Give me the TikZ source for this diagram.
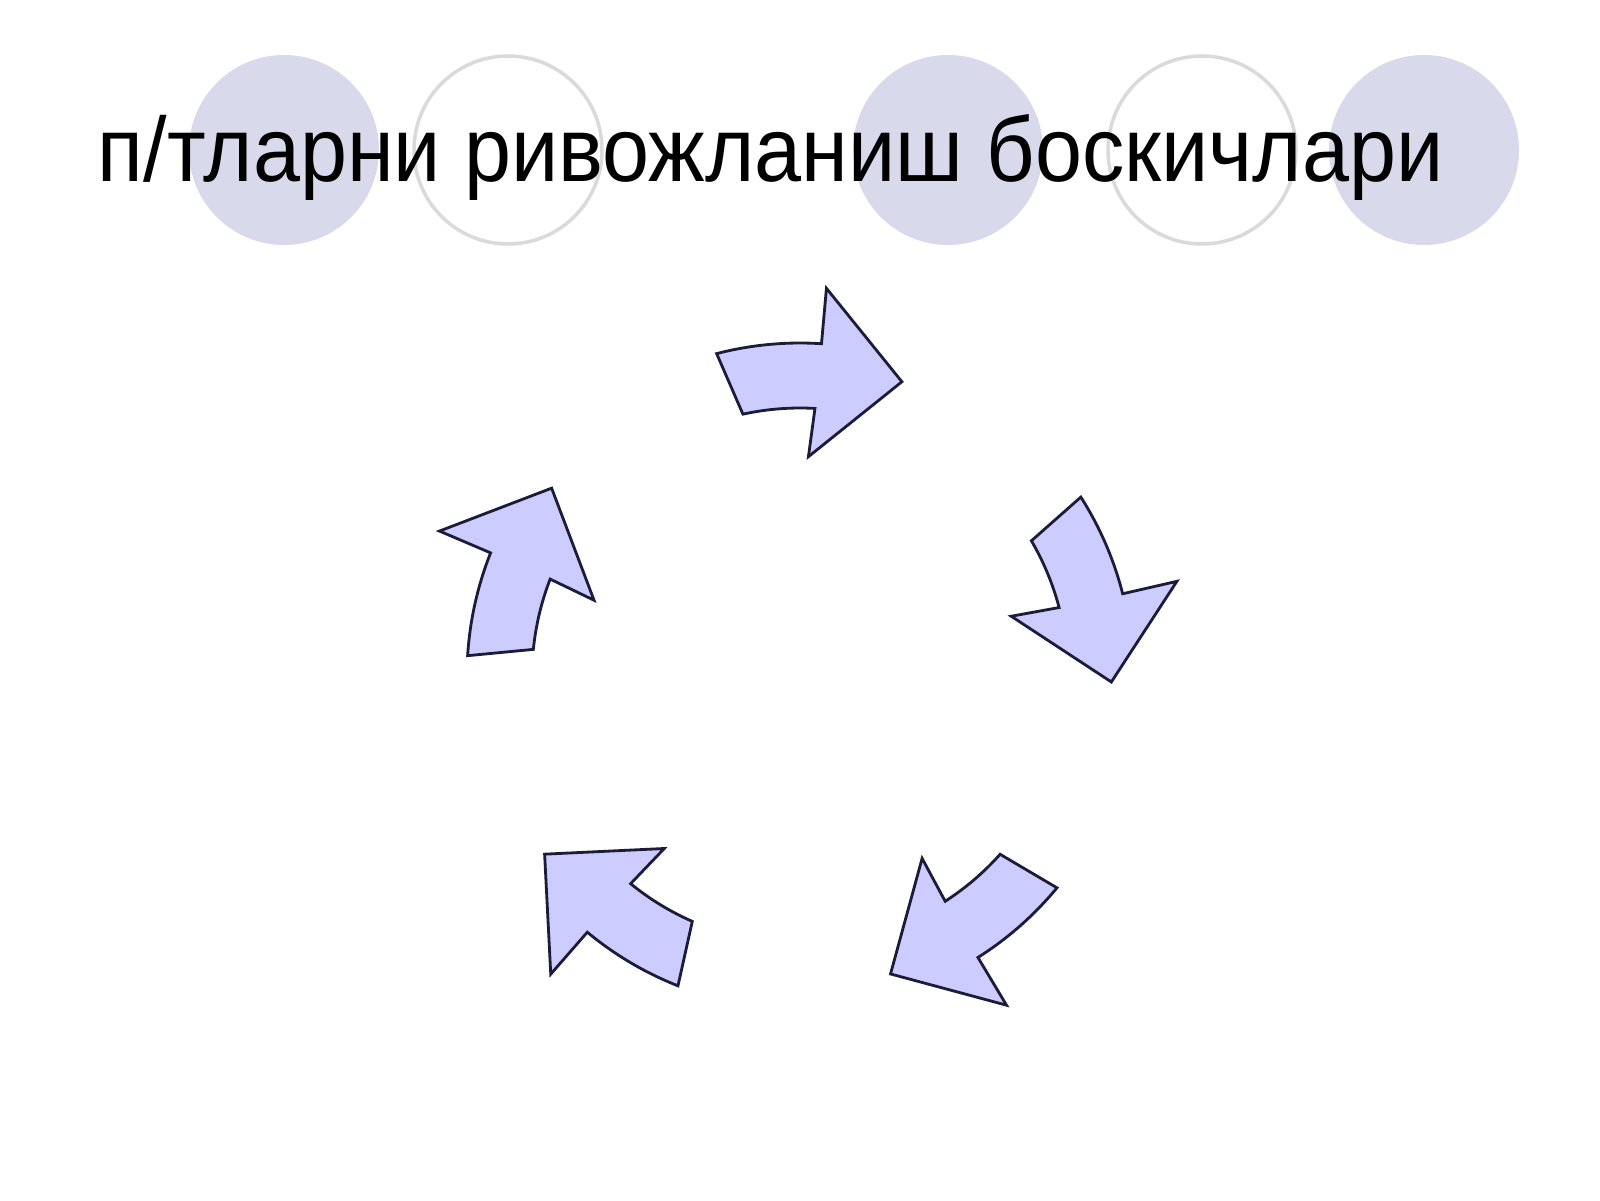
\documentclass[tikz,border=0pt]{standalone}
\usepackage{fontspec}
\setmainfont{Liberation Sans}
\definecolor{dotfill}{HTML}{D9D9EC}
\definecolor{dotline}{HTML}{DADADA}
\definecolor{arrowfill}{HTML}{CCCCFF}
\definecolor{arrowline}{HTML}{1C1C38}
\tikzset{
	fulldot/.style={fill=dotfill,draw=none},
	ringdot/.style={draw=dotline,line width=1pt},
	cyclearrow/.style={fill=arrowfill,draw=arrowline,line width=0.8pt,line join=miter},
}
\begin{document}
\begin{tikzpicture}
	\useasboundingbox[fill=white] (0,0) rectangle (16,12);
	\fill[fulldot] (2.84,10.50) circle (0.95);
	\draw[ringdot] (5.08,10.50) circle (0.94);
	\fill[fulldot] (9.48,10.50) circle (0.95);
	\draw[ringdot] (12.02,10.50) circle (0.94);
	\fill[fulldot] (14.24,10.50) circle (0.95);
	\node[anchor=base west,inner sep=0pt,font=\fontsize{26}{30}\selectfont] (title) at (0.97,10.18) {\scalebox{0.925}[1]{п/тларни ривожланиш боскичлари}};
	\begin{scope}[shift={(8.00,5.24)}]
	\draw[cyclearrow,rotate=0] (104.5:3.33) arc[start angle=104.5,end angle=86.3,radius=3.33] -- (86.1:3.886) -- (70.9:3.114) -- (87.8:2.195) -- (86.8:2.68) arc[start angle=86.8,end angle=102.3,radius=2.68] -- cycle;
	\draw[cyclearrow,rotate=-72] (104.5:3.33) arc[start angle=104.5,end angle=86.3,radius=3.33] -- (86.1:3.886) -- (70.9:3.114) -- (87.8:2.195) -- (86.8:2.68) arc[start angle=86.8,end angle=102.3,radius=2.68] -- cycle;
	\draw[cyclearrow,rotate=-144] (104.5:3.33) arc[start angle=104.5,end angle=86.3,radius=3.33] -- (86.1:3.886) -- (70.9:3.114) -- (87.8:2.195) -- (86.8:2.68) arc[start angle=86.8,end angle=102.3,radius=2.68] -- cycle;
	\draw[cyclearrow,rotate=-216] (104.5:3.33) arc[start angle=104.5,end angle=86.3,radius=3.33] -- (86.1:3.886) -- (70.9:3.114) -- (87.8:2.195) -- (86.8:2.68) arc[start angle=86.8,end angle=102.3,radius=2.68] -- cycle;
	\draw[cyclearrow,rotate=-288] (104.5:3.33) arc[start angle=104.5,end angle=86.3,radius=3.33] -- (86.1:3.886) -- (70.9:3.114) -- (87.8:2.195) -- (86.8:2.68) arc[start angle=86.8,end angle=102.3,radius=2.68] -- cycle;
	\end{scope}
\end{tikzpicture}
\end{document}
